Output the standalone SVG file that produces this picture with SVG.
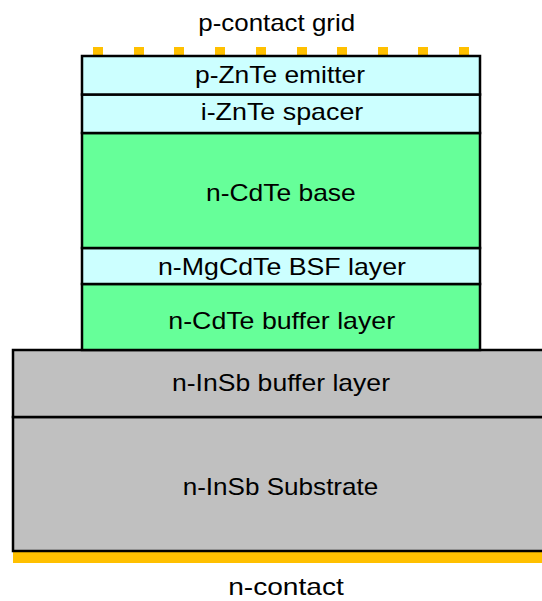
<svg xmlns="http://www.w3.org/2000/svg" width="542" height="601" viewBox="0 0 542 601">
<style>
.layer{stroke:#000;stroke-width:2.5}
.cyan{fill:#CCFFFF}
.green{fill:#66FF99}
.grey{fill:#C0C0C0}
.gold{fill:#FFC000}
text{font-family:"Liberation Sans",Arial,sans-serif;font-size:24px;fill:#000;text-anchor:middle}
</style>
<rect width="542" height="601" fill="#fff"/>
<g id="p-contact-grid">
<rect class="gold" x="93" y="47" width="10" height="8"/>
<rect class="gold" x="134" y="47" width="10" height="8"/>
<rect class="gold" x="174" y="47" width="10" height="8"/>
<rect class="gold" x="215" y="47" width="10" height="8"/>
<rect class="gold" x="256" y="47" width="10" height="8"/>
<rect class="gold" x="297" y="47" width="10" height="8"/>
<rect class="gold" x="337" y="47" width="10" height="8"/>
<rect class="gold" x="378" y="47" width="10" height="8"/>
<rect class="gold" x="418" y="47" width="10" height="8"/>
<rect class="gold" x="459" y="47" width="10" height="8"/>
<text x="276.7" y="31" textLength="156.7" lengthAdjust="spacingAndGlyphs">p-contact grid</text>
</g>
<g id="n-contact">
<rect class="gold" x="13" y="552" width="529" height="11"/>
<text x="286" y="595" textLength="115.7" lengthAdjust="spacingAndGlyphs">n-contact</text>
</g>
<g id="insb-substrate">
<rect class="layer grey" x="13" y="417" width="535" height="134"/>
<text x="280.5" y="495" textLength="195.6" lengthAdjust="spacingAndGlyphs">n-InSb Substrate</text>
</g>
<g id="insb-buffer">
<rect class="layer grey" x="13" y="350" width="535" height="67"/>
<text x="281" y="391" textLength="218" lengthAdjust="spacingAndGlyphs">n-InSb buffer layer</text>
</g>
<g id="cdte-buffer">
<rect class="layer green" x="82" y="284" width="398" height="66"/>
<text x="281.7" y="329" textLength="226.7" lengthAdjust="spacingAndGlyphs">n-CdTe buffer layer</text>
</g>
<g id="mgcdte-bsf">
<rect class="layer cyan" x="82" y="248" width="398" height="36"/>
<text x="282" y="275" textLength="248" lengthAdjust="spacingAndGlyphs">n-MgCdTe BSF layer</text>
</g>
<g id="cdte-base">
<rect class="layer green" x="82" y="133" width="398" height="115"/>
<text x="280.9" y="200.5" textLength="149.7" lengthAdjust="spacingAndGlyphs">n-CdTe base</text>
</g>
<g id="znte-spacer">
<rect class="layer cyan" x="82" y="94.5" width="398" height="38.5"/>
<text x="282" y="119.5" textLength="162.6" lengthAdjust="spacingAndGlyphs">i-ZnTe spacer</text>
</g>
<g id="znte-emitter">
<rect class="layer cyan" x="82" y="56" width="398" height="38.5"/>
<text x="280" y="82.7" textLength="170" lengthAdjust="spacingAndGlyphs">p-ZnTe emitter</text>
</g>
</svg>
